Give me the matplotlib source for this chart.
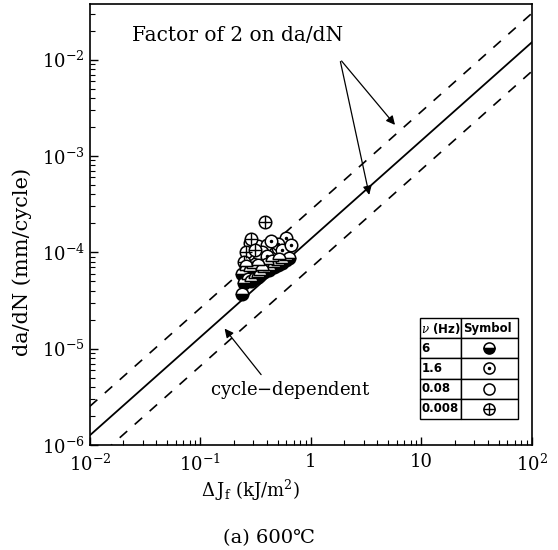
import numpy as np
import matplotlib
matplotlib.use("Agg")
import matplotlib.pyplot as plt

plt.rcParams['font.family'] = ['DejaVu Serif', 'Noto Sans CJK SC']
plt.rcParams['mathtext.fontset'] = 'dejavuserif'

# fitted line da/dN = C * dJ^n, with factor-of-2 band
C = 1.38e-4
n = 1.02
band = 2.0

# test data
hz6_x = [0.238, 0.25, 0.24, 0.26, 0.27, 0.29, 0.31, 0.33, 0.35, 0.38, 0.42, 0.46,
         0.50, 0.55, 0.60, 0.64, 0.28, 0.30, 0.36, 0.40, 0.45, 0.52, 0.26, 0.33]
hz6_y = [3.7e-5, 4.8e-5, 6.0e-5, 6.6e-5, 5.3e-5, 5.0e-5, 5.4e-5, 5.6e-5, 5.8e-5, 6.2e-5, 6.6e-5, 7.0e-5,
         7.4e-5, 7.8e-5, 8.4e-5, 8.8e-5, 6.4e-5, 6.8e-5, 6.6e-5, 7.6e-5, 8.2e-5, 8.6e-5, 7.2e-5, 7.4e-5]
hz16_x = [0.60, 0.50, 0.44, 0.55, 0.40, 0.66]
hz16_y = [1.40e-4, 1.22e-4, 1.30e-4, 1.05e-4, 9.2e-5, 1.2e-4]
hz008_x = [0.28, 0.33, 0.40, 0.36, 0.33, 0.40, 0.47, 0.30, 0.37, 0.44, 0.27, 0.50]
hz008_y = [1.25e-4, 1.15e-4, 1.18e-4, 1.0e-4, 8.9e-5, 8.6e-5, 9.8e-5, 7.6e-5, 7.2e-5, 7.9e-5, 9.6e-5, 1.1e-4]
hz0008_x = [0.384, 0.26, 0.25, 0.29, 0.31]
hz0008_y = [2.05e-4, 1.0e-4, 8.0e-5, 1.38e-4, 1.05e-4]

x_ticks = [1e-2, 1e-1, 1, 10, 1e2]
x_ticklabels = ['$10^{-2}$', '$10^{-1}$', '1', '10', '$10^{2}$']
y_ticks = [1e-6, 1e-5, 1e-4, 1e-3, 1e-2]
y_ticklabels = ['$10^{-6}$', '$10^{-5}$', '$10^{-4}$', '$10^{-3}$', '$10^{-2}$']

table_rows = [[r'$\nu$ (Hz)', 'Symbol'], ['6', ''], ['1.6', ''], ['0.08', ''], ['0.008', '']]

fig = plt.figure(figsize=(5.58, 5.50), dpi=100)
ax = fig.add_axes([0.161, 0.191, 0.792, 0.802])
ax.set_xscale('log')
ax.set_yscale('log')
ax.set_xlim(1e-2, 1e2)
ax.set_ylim(1e-6, 0.038)

xl = np.array([1e-2, 1e2])
ax.plot(xl, C * xl ** n, color='black', lw=1.3)
ax.plot(xl, band * C * xl ** n, color='black', lw=1.2, ls=(0, (6, 6)))
ax.plot(xl, C / band * xl ** n, color='black', lw=1.2, ls=(0, (6, 6)))

ms = 9
ax.plot(hz008_x, hz008_y, 'o', ls='none', mfc='white', mec='black', ms=ms, mew=1.1)
ax.plot(hz0008_x, hz0008_y, 'o', ls='none', mfc='white', mec='black', ms=ms, mew=1.1)
ax.plot(hz0008_x, hz0008_y, '+', ls='none', color='black', ms=ms, mew=1.0)
ax.plot(hz16_x, hz16_y, 'o', ls='none', mfc='white', mec='black', ms=ms, mew=1.1)
ax.plot(hz16_x, hz16_y, '.', ls='none', color='black', ms=3)
ax.plot(hz6_x, hz6_y, 'o', ls='none', fillstyle='bottom', mfc='black', mfcalt='white',
        mec='black', ms=ms, mew=1.1)

ax.set_xticks(x_ticks, labels=x_ticklabels)
ax.set_yticks(y_ticks, labels=y_ticklabels)
ax.tick_params(which='major', direction='in', length=6, width=1, labelsize=13)
ax.tick_params(which='minor', direction='in', length=3.5, width=0.8)
ax.tick_params(axis='x', pad=6)
for s in ax.spines.values():
    s.set_linewidth(1.2)

ax.set_ylabel('da/dN (mm/cycle)', fontsize=15)
ax.yaxis.set_label_coords(-0.13, 0.415)
fig.text(0.448, 0.109, r'$\mathit{\Delta}\,\mathrm{J_f}$ (kJ/m$^2$)', fontsize=13,
         ha='center', va='center')
fig.text(0.482, 0.022, '(a) 600℃', fontsize=14, ha='center', va='center')

# annotations
ax.text(0.024, 1.8e-2, 'Factor of 2 on da/dN', fontsize=14.5, va='center', ha='left')
arrow = dict(arrowstyle='-|>', color='black', lw=0.9, mutation_scale=13)
ax.annotate('', xy=(6.0, 2.0e-3), xytext=(1.83, 1.02e-2), arrowprops=arrow)
ax.annotate('', xy=(3.42, 3.7e-4), xytext=(1.83, 1.02e-2), arrowprops=arrow)
ax.text(0.122, 3.7e-6, 'cycle$-$dependent', fontsize=13, va='center', ha='left')
ax.annotate('', xy=(0.16, 1.7e-5), xytext=(0.368, 5.1e-6), arrowprops=arrow)

# legend table
tx0, tx1, tdiv, ty0, ty1 = 0.747, 0.968, 0.840, 0.059, 0.288
tbl = ax.table(cellText=table_rows, bbox=[tx0, ty0, tx1 - tx0, ty1 - ty0],
               colWidths=[tdiv - tx0, tx1 - tdiv], cellLoc='left', zorder=5)
tbl.auto_set_font_size(False)
for (r, c), cell in tbl.get_celld().items():
    cell.set_facecolor('white')
    cell.set_linewidth(1.0)
    cell.get_text().set_fontsize(8.5)
    cell.get_text().set_fontfamily('DejaVu Sans')
    cell.get_text().set_fontweight('bold')
    cell.PAD = 0.03

rh = (ty1 - ty0) / len(table_rows)
xc = (tdiv + tx1) / 2
yc = [ty1 - rh * (i + 1.5) for i in range(4)]
kw = dict(transform=ax.transAxes, ls='none', clip_on=False, zorder=6, ms=8)
ax.plot([xc], [yc[0]], 'o', fillstyle='bottom', mfc='black', mfcalt='white', mec='black', mew=1.1, **kw)
ax.plot([xc], [yc[1]], 'o', mfc='white', mec='black', mew=1.1, **kw)
ax.plot([xc], [yc[1]], '.', color='black', transform=ax.transAxes, clip_on=False, zorder=7, ms=3)
ax.plot([xc], [yc[2]], 'o', mfc='white', mec='black', mew=1.1, **kw)
ax.plot([xc], [yc[3]], 'o', mfc='white', mec='black', mew=1.1, **kw)
ax.plot([xc], [yc[3]], '+', color='black', mew=1.0, transform=ax.transAxes, clip_on=False, zorder=7, ms=8)

fig.savefig('out.png', dpi=100)
